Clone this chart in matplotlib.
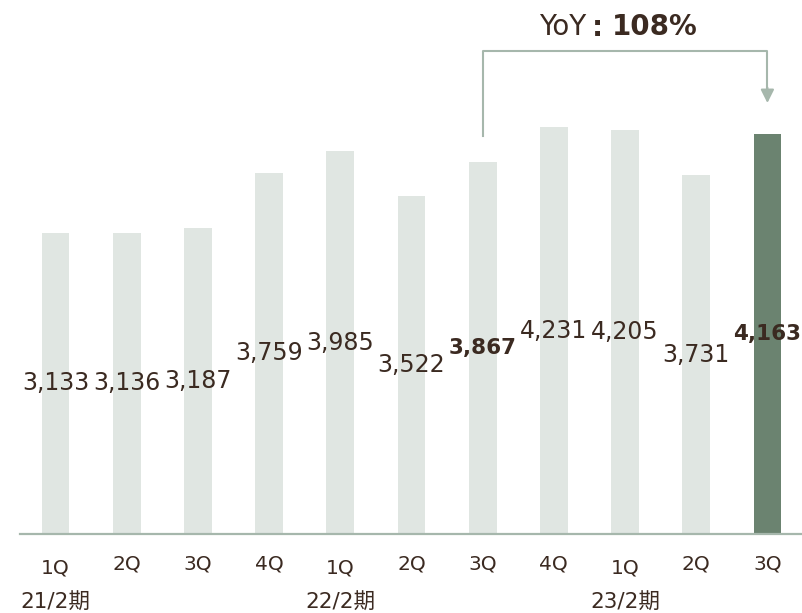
import matplotlib
matplotlib.use("Agg")
import matplotlib.pyplot as plt
from matplotlib.transforms import ScaledTranslation

# ---- data ----
quarters = ["1Q", "2Q", "3Q", "4Q", "1Q", "2Q", "3Q", "4Q", "1Q", "2Q", "3Q"]
values = [3133, 3136, 3187, 3759, 3985, 3522, 3867, 4231, 4205, 3731, 4163]
bold_idx = [6, 10]
highlight_idx = 10
periods = ["21/2期", "22/2期", "23/2期"]
period_pos = [0, 4, 8]
yoy_from, yoy_to = 6, 10
yoy_label = "108%"

TEXT = "#3b2a21"
LIGHT = "#e0e6e2"
DARK = "#6b8370"
LINE = "#a6b7ac"
FONTS = ["DejaVu Sans", "Noto Sans CJK JP"]

plt.rcParams["font.family"] = FONTS

fig = plt.figure(figsize=(8.03, 6.13), dpi=100)
W, H = 803, 613
ax = fig.add_axes([20 / W, 79 / H, 783 / W, 534 / H])
ax.set_xlim(-0.5, len(values) - 0.5)
ax.set_ylim(0, 5557)

x = list(range(len(values)))
colors = [DARK if i == highlight_idx else LIGHT for i in x]
ax.bar(x, values, width=0.39, color=colors, zorder=2)

for i, v in enumerate(values):
    is_bold = i in bold_idx
    ax.text(i, v / 2, f"{v:,}", ha="center", va="center",
            fontsize=15.5 if is_bold else 17,
            color=TEXT, fontweight="bold" if is_bold else "normal", zorder=3)

for s in ["top", "left", "right"]:
    ax.spines[s].set_visible(False)
ax.spines["bottom"].set_color(LINE)
ax.spines["bottom"].set_linewidth(1.6)
ax.set_yticks([])
ax.set_xticks(x)
ax.set_xticklabels(quarters, fontsize=14.5, color=TEXT)
ax.tick_params(axis="x", length=0, pad=15)
for lbl, q in zip(ax.get_xticklabels(), quarters):
    if q == "1Q":
        lbl.set_transform(lbl.get_transform() + ScaledTranslation(0, -4 / 100, fig.dpi_scale_trans))

xt = ax.get_xaxis_transform()
for p, pos in zip(periods, period_pos):
    ax.text(pos, 0, p, transform=xt + ScaledTranslation(0, -69 / 100, fig.dpi_scale_trans),
            ha="center", va="center", fontsize=15.5, color=TEXT)

# YoY bracket
y_start = values[yoy_from] + 270
y_top = 5026
y_tip = 4485
ax.plot([yoy_from, yoy_from, yoy_to, yoy_to], [y_start, y_top, y_top, y_tip + 100],
        color=LINE, lw=1.5, clip_on=False, zorder=4)
ax.annotate("", xy=(yoy_to, y_tip), xytext=(yoy_to, y_tip + 160),
            arrowprops=dict(arrowstyle="-|>", color=LINE, lw=1.5, mutation_scale=20,
                            shrinkA=0, shrinkB=0),
            annotation_clip=False)

ax.text(586 / W, 1 - 27 / H, "YoY", transform=fig.transFigure, ha="right", va="center",
        fontsize=20, color=TEXT)
ax.text(597 / W, 1 - 28 / H, ":", transform=fig.transFigure, ha="center", va="center",
        fontsize=20, color=TEXT, fontweight="bold")
ax.text(612 / W, 1 - 27 / H, yoy_label, transform=fig.transFigure, ha="left", va="center",
        fontsize=20, color=TEXT, fontweight="bold")

fig.savefig("out.png", dpi=100)
